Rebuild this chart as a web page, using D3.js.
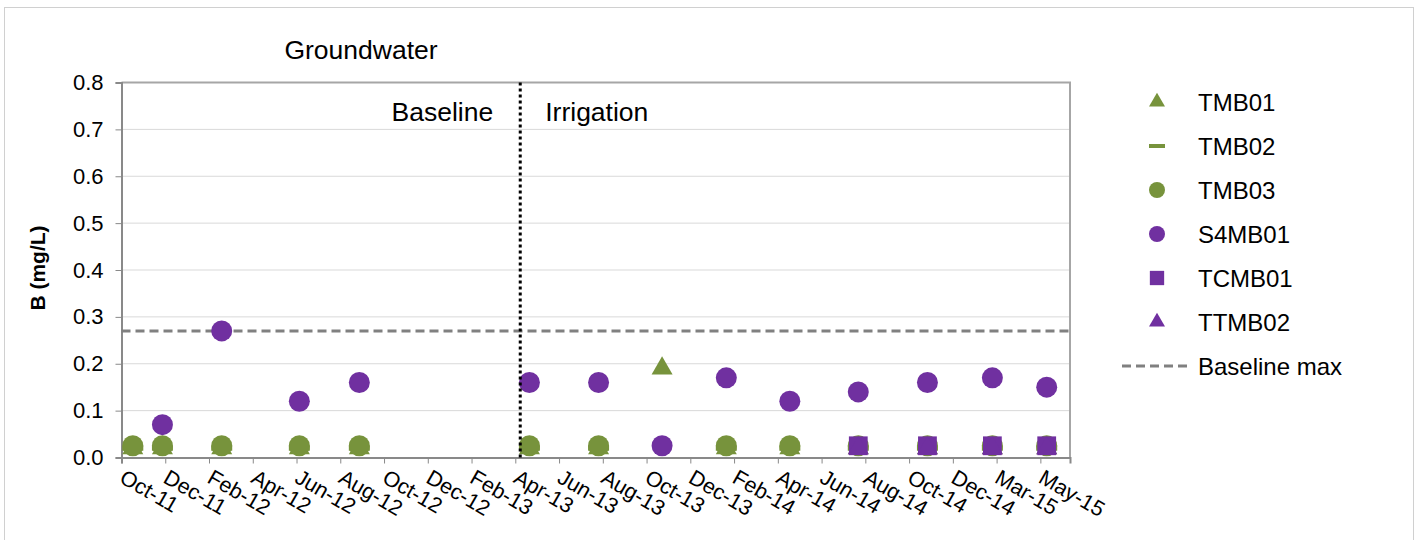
<!DOCTYPE html>
<html>
<head>
<meta charset="utf-8">
<script src="https://cdn.jsdelivr.net/npm/d3@7"></script>
<style>
  body { margin: 0; background: #fff; }
  text { font-family: Arial, "Liberation Sans", sans-serif; fill: #000; }
</style>
</head>
<body>
<div id="my_dataviz"></div>
<script>
// Axis ticks (Excel date axis, one tick every 62 days)
var tickDates = ["2011-10-10", "2011-12-11", "2012-02-11", "2012-04-13", "2012-06-14", "2012-08-15",
                 "2012-10-16", "2012-12-17", "2013-02-17", "2013-04-20", "2013-06-21", "2013-08-22",
                 "2013-10-23", "2013-12-24", "2014-02-24", "2014-04-27", "2014-06-28", "2014-08-29",
                 "2014-10-30", "2014-12-31", "2015-03-03", "2015-05-04"];
var tickLabels = ["Oct-11", "Dec-11", "Feb-12", "Apr-12", "Jun-12", "Aug-12", "Oct-12", "Dec-12",
                  "Feb-13", "Apr-13", "Jun-13", "Aug-13", "Oct-13", "Dec-13", "Feb-14", "Apr-14",
                  "Jun-14", "Aug-14", "Oct-14", "Dec-14", "Mar-15", "May-15"];
var xDomain = ["2011-10-10", "2015-06-15"];
var yTicks = [0, 0.1, 0.2, 0.3, 0.4, 0.5, 0.6, 0.7, 0.8];

// Sampling rounds
var sampleDates = ["2011-10-26", "2011-12-07", "2012-02-29", "2012-06-18", "2012-09-11", "2013-05-10",
                   "2013-08-16", "2013-11-14", "2014-02-13", "2014-05-14", "2014-08-19", "2014-11-25",
                   "2015-02-25", "2015-05-13"];

// B (mg/L) per well, null = not sampled
var TMB01  = [0.02, 0.02, 0.02, 0.02, 0.02, 0.02, 0.02, 0.19, 0.02, 0.02, 0.02, 0.02, 0.02, 0.02];
var TMB02  = [0.02, 0.02, 0.02, 0.02, 0.02, 0.02, 0.02, null, 0.02, 0.02, 0.02, 0.02, 0.02, 0.02];
var TMB03  = [0.025, 0.025, 0.025, 0.025, 0.025, 0.025, 0.025, null, 0.025, 0.025, 0.025, 0.025, 0.025, 0.025];
var S4MB01 = [null, 0.07, 0.27, 0.12, 0.16, 0.16, 0.16, 0.025, 0.17, 0.12, 0.14, 0.16, 0.17, 0.15];
var TCMB01 = [null, null, null, null, null, null, null, null, null, null, 0.025, 0.025, 0.025, 0.025];
var TTMB02 = [null, null, null, null, null, null, null, null, null, null, 0.02, 0.02, 0.02, 0.02];

var baselineMax = 0.27;
var irrigationStart = "2013-04-27";

var green = "#77933c", purple = "#7030a0";

var series = [
  {name: "TMB01",  values: TMB01,  color: green,  shape: "triangle"},
  {name: "TMB02",  values: TMB02,  color: green,  shape: "dash"},
  {name: "TMB03",  values: TMB03,  color: green,  shape: "circle"},
  {name: "S4MB01", values: S4MB01, color: purple, shape: "circle"},
  {name: "TCMB01", values: TCMB01, color: purple, shape: "square"},
  {name: "TTMB02", values: TTMB02, color: purple, shape: "triangle"}
];

var parse = d3.timeParse("%Y-%m-%d");

// plot area
var margin = {top: 82.5, right: 349, bottom: 82.5, left: 121.5},
    width = 1419 - margin.left - margin.right,
    height = 540 - margin.top - margin.bottom;

var svgRoot = d3.select("#my_dataviz")
  .append("svg")
    .attr("width", 1419)
    .attr("height", 540);

// outer chart border
svgRoot.append("rect")
    .attr("x", 4.5).attr("y", 7.5)
    .attr("width", 1409).attr("height", 545)
    .attr("fill", "none")
    .attr("stroke", "#d0d0d0");

var svg = svgRoot.append("g")
    .attr("transform", "translate(" + margin.left + "," + margin.top + ")");

var x = d3.scaleTime()
    .domain(xDomain.map(parse))
    .range([0, width]);

var y = d3.scaleLinear()
    .domain([0, 0.8])
    .range([height, 0]);

// gridlines
svg.append("g")
  .selectAll("line")
  .data(yTicks.slice(1))
  .enter()
  .append("line")
    .attr("x1", 0).attr("x2", width)
    .attr("y1", function(d) { return y(d); })
    .attr("y2", function(d) { return y(d); })
    .attr("stroke", "#d9d9d9")
    .attr("stroke-width", 1);

// top / right frame
svg.append("path")
    .attr("d", "M0," + y(0.8) + "H" + width + "V" + height)
    .attr("fill", "none")
    .attr("stroke", "#a6a6a6")
    .attr("stroke-width", 2);

// Y axis
var yAxis = svg.append("g")
    .call(d3.axisLeft(y)
      .tickValues(yTicks)
      .tickFormat(d3.format(".1f"))
      .tickSize(6)
      .tickPadding(12));
yAxis.select(".domain").attr("stroke", "#898989").attr("stroke-width", 2);
yAxis.selectAll(".tick line").attr("stroke", "#898989");
yAxis.selectAll("text").style("font-size", "22px");

// X axis
var xAxis = svg.append("g")
    .attr("transform", "translate(0," + height + ")")
    .call(d3.axisBottom(x)
      .tickValues(tickDates.map(parse))
      .tickFormat(function(d, i) { return tickLabels[i]; })
      .tickSize(6));
xAxis.select(".domain").attr("stroke", "#898989").attr("stroke-width", 2);
xAxis.selectAll(".tick line").attr("stroke", "#898989");
xAxis.selectAll("text")
    .style("font-size", "21.5px")
    .attr("text-anchor", "start")
    .attr("x", 0)
    .attr("y", 0)
    .attr("dy", "0.71em")
    .attr("transform", "translate(4,11) rotate(30)");

// Y label
svgRoot.append("text")
    .attr("transform", "translate(45," + (margin.top + height / 2 - 2) + ") rotate(-90)")
    .attr("text-anchor", "middle")
    .style("font-size", "21px")
    .style("font-weight", "bold")
    .text("B (mg/L)");

// title
svgRoot.append("text")
    .attr("x", 361)
    .attr("y", 59)
    .attr("text-anchor", "middle")
    .style("font-size", "26.5px")
    .text("Groundwater");

// baseline max line
svg.append("line")
    .attr("x1", 0).attr("x2", width)
    .attr("y1", y(baselineMax)).attr("y2", y(baselineMax))
    .attr("stroke", "#808080")
    .attr("stroke-width", 3)
    .attr("stroke-dasharray", "9,5");

// marker shapes
function shapePath(shape, s) {
  if (shape == "circle") return d3.symbol().type(d3.symbolCircle).size(Math.PI * s * s / 4)();
  if (shape == "square") return d3.symbol().type(d3.symbolSquare).size(s * s * 0.8)();
  if (shape == "triangle") return d3.symbol().type(d3.symbolTriangle).size(Math.sqrt(3) / 4 * s * s)();
  // dash
  var w = s / 2, h = s / 8;
  return "M" + (-w) + "," + (-h) + "H" + w + "V" + h + "H" + (-w) + "Z";
}

series.forEach(function(s) {
  var pts = sampleDates.map(function(d, i) { return {date: parse(d), v: s.values[i]}; })
    .filter(function(p) { return p.v != null; });
  svg.append("g")
    .selectAll("path")
    .data(pts)
    .enter()
    .append("path")
      .attr("d", shapePath(s.shape, 21))
      .attr("transform", function(p) { return "translate(" + x(p.date) + "," + y(p.v) + ")"; })
      .attr("fill", s.color);
});

// baseline / irrigation divider
svg.append("line")
    .attr("x1", x(parse(irrigationStart))).attr("x2", x(parse(irrigationStart)))
    .attr("y1", 0).attr("y2", height)
    .attr("stroke", "#000")
    .attr("stroke-width", 3)
    .attr("stroke-dasharray", "3,3");

svg.append("text")
    .attr("x", x(parse(irrigationStart)) - 27)
    .attr("y", 38)
    .attr("text-anchor", "end")
    .style("font-size", "26.5px")
    .text("Baseline");

svg.append("text")
    .attr("x", x(parse(irrigationStart)) + 25)
    .attr("y", 38)
    .attr("text-anchor", "start")
    .style("font-size", "26.5px")
    .text("Irrigation");

// legend
var legend = svgRoot.append("g")
    .attr("transform", "translate(1157,102)");

var rows = legend.selectAll("g")
  .data(series.concat([{name: "Baseline max", shape: "line"}]))
  .enter()
  .append("g")
    .attr("transform", function(d, i) { return "translate(0," + (i * 44) + ")"; });

rows.filter(function(d) { return d.shape != "line"; })
  .append("path")
    .attr("d", function(d) { return shapePath(d.shape, 16); })
    .attr("fill", function(d) { return d.color; });

rows.filter(function(d) { return d.shape == "line"; })
  .append("line")
    .attr("x1", -35).attr("x2", 35)
    .attr("stroke", "#808080")
    .attr("stroke-width", 3)
    .attr("stroke-dasharray", "9,5");

rows.append("text")
    .attr("x", 41)
    .attr("dy", "0.36em")
    .style("font-size", "24px")
    .text(function(d) { return d.name; });
</script>
</body>
</html>
